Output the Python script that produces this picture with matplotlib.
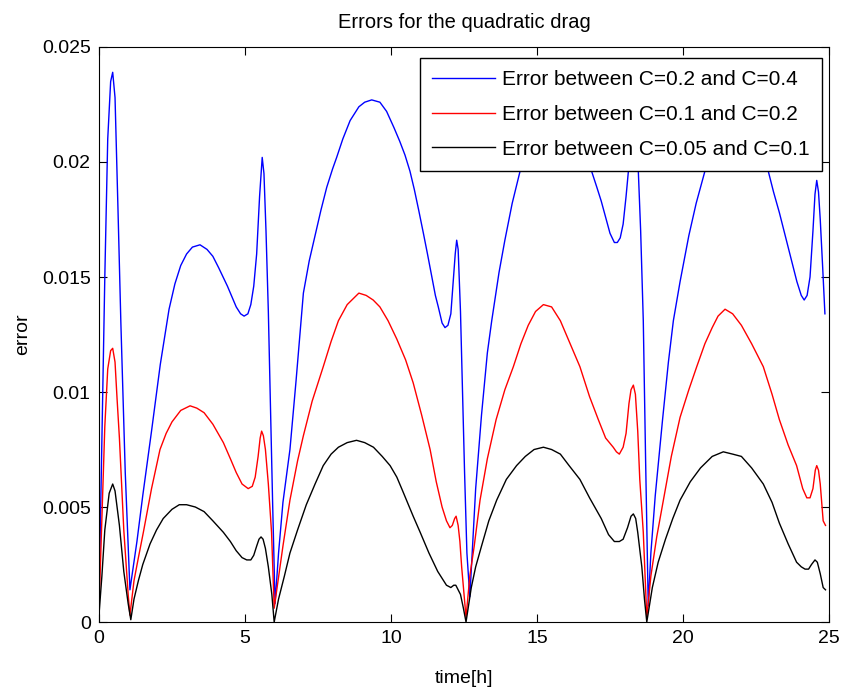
import matplotlib
matplotlib.use("Agg")
import matplotlib.pyplot as plt

plt.rcParams['font.family'] = ['Liberation Sans', 'DejaVu Sans']

# error between C=0.2 and C=0.4
t_blue = [0, 0.1, 0.2, 0.3, 0.4, 0.47, 0.55, 0.65, 0.75, 0.9, 1.06, 1.15, 1.3, 1.5, 1.8,
          2.1, 2.4, 2.6, 2.8, 3.0, 3.2, 3.46, 3.7, 3.9, 4.1, 4.4, 4.7, 4.85, 4.97, 5.1,
          5.2, 5.3, 5.4, 5.5, 5.59, 5.65, 5.72, 5.8, 5.88, 5.95, 6.03, 6.15, 6.3, 6.54,
          6.75, 7.0, 7.2, 7.4, 7.6, 7.8, 8.0, 8.14, 8.35, 8.6, 8.9, 9.1, 9.34, 9.62, 9.85,
          10.1, 10.3, 10.48, 10.65, 10.8, 10.95, 11.11, 11.25, 11.4, 11.52, 11.62, 11.75,
          11.85, 11.95, 12.05, 12.13, 12.2, 12.25, 12.3, 12.38, 12.45, 12.52, 12.6, 12.7,
          12.78, 12.9, 13.1, 13.3, 13.45, 13.7, 13.9, 14.15, 14.42, 14.7, 14.95, 15.2,
          15.5, 15.8, 16.1, 16.35, 16.6, 16.87, 17.05, 17.2, 17.35, 17.5, 17.65, 17.75,
          17.85, 17.95, 18.05, 18.13, 18.22, 18.3, 18.38, 18.47, 18.55, 18.64, 18.72,
          18.81, 18.9, 19.05, 19.3, 19.5, 19.67, 19.9, 20.2, 20.45, 20.75, 21.0, 21.25,
          21.5, 21.8, 22.1, 22.35, 22.6, 22.92, 23.1, 23.3, 23.5, 23.7, 23.9, 24.05, 24.15,
          24.25, 24.35, 24.45, 24.52, 24.58, 24.64, 24.7, 24.78, 24.86]
e_blue = [0.0008, 0.008, 0.015, 0.021, 0.0235, 0.0239, 0.0228, 0.018, 0.013, 0.0065, 0.0014,
          0.0022, 0.0035, 0.0055, 0.0083, 0.0112, 0.0136, 0.0147, 0.0155, 0.016, 0.0163,
          0.0164, 0.0162, 0.0159, 0.0154, 0.0146, 0.0137, 0.0134, 0.0133, 0.0134, 0.0138,
          0.0146, 0.016, 0.0185, 0.0202, 0.0195, 0.017, 0.0135, 0.009, 0.005, 0.0008, 0.003,
          0.0052, 0.0075, 0.0105, 0.0143, 0.0157, 0.0168, 0.0179, 0.0189, 0.0197, 0.0202,
          0.021, 0.0218, 0.0224, 0.0226, 0.0227, 0.0226, 0.0222, 0.0215, 0.0209, 0.0203,
          0.0196, 0.0188, 0.0179, 0.0169, 0.016, 0.015, 0.0142, 0.0137, 0.013, 0.0128,
          0.0129, 0.0134, 0.0148, 0.016, 0.0166, 0.0162, 0.0135, 0.01, 0.0065, 0.003, 0.0011,
          0.003, 0.0058, 0.009, 0.0117, 0.0131, 0.0152, 0.0166, 0.0182, 0.0196, 0.0207,
          0.0215, 0.022, 0.0222, 0.0222, 0.0218, 0.0212, 0.0204, 0.0196, 0.0189, 0.0183,
          0.0176, 0.0169, 0.0165, 0.0165, 0.0167, 0.0173, 0.0185, 0.0196, 0.0207, 0.0212,
          0.0207, 0.0196, 0.017, 0.0131, 0.007, 0.0007, 0.003, 0.0055, 0.0088, 0.0113,
          0.0131, 0.0148, 0.0168, 0.0182, 0.0196, 0.0205, 0.0211, 0.0214, 0.0215, 0.0213,
          0.0209, 0.0203, 0.0196, 0.0187, 0.0178, 0.0168, 0.0158, 0.0148, 0.0142, 0.014,
          0.0142, 0.015, 0.017, 0.0186, 0.0192, 0.0187, 0.0175, 0.0155, 0.0134]

# error between C=0.1 and C=0.2
t_red = [0, 0.1, 0.2, 0.3, 0.4, 0.47, 0.55, 0.62, 0.7, 0.85, 1.0, 1.06, 1.2, 1.35, 1.52,
         1.8, 2.09, 2.3, 2.5, 2.8, 3.12, 3.35, 3.6, 3.9, 4.26, 4.5, 4.7, 4.9, 5.11, 5.25,
         5.35, 5.45, 5.52, 5.57, 5.63, 5.7, 5.8, 5.91, 6.0, 6.1, 6.3, 6.54, 6.8, 7.0, 7.3,
         7.68, 7.95, 8.2, 8.5, 8.9, 9.15, 9.39, 9.62, 9.9, 10.2, 10.5, 10.76, 11.05, 11.34,
         11.55, 11.75, 11.9, 12.02, 12.1, 12.18, 12.23, 12.3, 12.36, 12.42, 12.5, 12.57,
         12.7, 12.85, 13.05, 13.3, 13.6, 13.9, 14.19, 14.45, 14.7, 14.95, 15.22, 15.5,
         15.8, 16.1, 16.47, 16.8, 17.1, 17.35, 17.61, 17.72, 17.82, 17.95, 18.05, 18.15,
         18.22, 18.3, 18.37, 18.45, 18.52, 18.64, 18.76, 18.9, 19.1, 19.33, 19.6, 19.9,
         20.2, 20.47, 20.75, 21.0, 21.2, 21.44, 21.7, 22.0, 22.35, 22.75, 23.05, 23.3,
         23.6, 23.89, 24.1, 24.24, 24.35, 24.45, 24.53, 24.58, 24.64, 24.7, 24.8, 24.88]
e_red = [0.0005, 0.0045, 0.0085, 0.011, 0.0118, 0.0119, 0.0113, 0.0097, 0.008, 0.004, 0.0012,
         0.0003, 0.0018, 0.0028, 0.0039, 0.0058, 0.0075, 0.0082, 0.0087, 0.0092, 0.0094,
         0.0093, 0.0091, 0.0086, 0.0078, 0.0071, 0.0065, 0.006, 0.0058, 0.0059, 0.0063,
         0.0072, 0.008, 0.0083, 0.0081, 0.0075, 0.006, 0.0039, 0.0006, 0.0015, 0.0033,
         0.0053, 0.007, 0.0081, 0.0096, 0.0111, 0.0122, 0.0131, 0.0138, 0.0143, 0.0142,
         0.014, 0.0137, 0.0131, 0.0123, 0.0114, 0.0104, 0.009, 0.0075, 0.0061, 0.005,
         0.0044, 0.0041, 0.0042, 0.0045, 0.0046, 0.0042, 0.0035, 0.0024, 0.0012, 0.0002,
         0.002, 0.0033, 0.0053, 0.0071, 0.0088, 0.0101, 0.0111, 0.0121, 0.0129, 0.0135,
         0.0138, 0.0137, 0.0131, 0.0122, 0.0111, 0.0098, 0.0088, 0.008, 0.0076, 0.0074,
         0.0073, 0.0076, 0.0082, 0.0095, 0.0101, 0.0103, 0.0099, 0.0083, 0.0062, 0.0039,
         0.0002, 0.002, 0.0037, 0.0053, 0.0072, 0.0089, 0.0101, 0.0111, 0.0121, 0.0128,
         0.0133, 0.0136, 0.0134, 0.0129, 0.0121, 0.0111, 0.0099, 0.0088, 0.0077, 0.0068,
         0.0058, 0.0054, 0.0054, 0.0058, 0.0066, 0.0068, 0.0066, 0.006, 0.0044, 0.0042]

# error between C=0.05 and C=0.1
t_black = [0, 0.1, 0.2, 0.35, 0.47, 0.55, 0.62, 0.7, 0.85, 1.0, 1.09, 1.2, 1.35, 1.5, 1.75,
           1.97, 2.2, 2.5, 2.75, 3.0, 3.3, 3.6, 3.9, 4.26, 4.5, 4.7, 4.9, 5.06, 5.2, 5.3,
           5.4, 5.48, 5.55, 5.62, 5.7, 5.8, 5.92, 6.0, 6.15, 6.35, 6.54, 6.8, 7.1, 7.4,
           7.68, 7.95, 8.2, 8.5, 8.82, 9.1, 9.4, 9.7, 9.97, 10.2, 10.4, 10.76, 11.0, 11.3,
           11.6, 11.9, 12.05, 12.15, 12.22, 12.3, 12.38, 12.48, 12.57, 12.75, 12.9, 13.1,
           13.35, 13.62, 13.95, 14.3, 14.6, 14.9, 15.22, 15.5, 15.8, 16.1, 16.47, 16.8,
           17.2, 17.45, 17.65, 17.82, 17.95, 18.1, 18.22, 18.3, 18.38, 18.45, 18.59, 18.68,
           18.76, 18.95, 19.15, 19.4, 19.65, 19.9, 20.25, 20.6, 21.0, 21.38, 21.7, 22.0,
           22.35, 22.75, 23.05, 23.3, 23.6, 23.89, 24.05, 24.18, 24.3, 24.4, 24.52, 24.6,
           24.7, 24.8, 24.88]
e_black = [0.0003, 0.002, 0.004, 0.0056, 0.006, 0.0057, 0.005, 0.0042, 0.0022, 0.0008,
           0.0001, 0.001, 0.0018, 0.0025, 0.0034, 0.004, 0.0045, 0.0049, 0.0051, 0.0051,
           0.005, 0.0048, 0.0044, 0.0039, 0.0035, 0.0031, 0.0028, 0.0027, 0.0027, 0.0029,
           0.0033, 0.0036, 0.0037, 0.0036, 0.0032, 0.0024, 0.0012, 0.0, 0.001, 0.002, 0.003,
           0.004, 0.0051, 0.006, 0.0068, 0.0073, 0.0076, 0.0078, 0.0079, 0.0078, 0.0076,
           0.0072, 0.0068, 0.0063, 0.0057, 0.0046, 0.0039, 0.003, 0.0022, 0.0016, 0.0015,
           0.0016, 0.0016, 0.0014, 0.0012, 0.0006, 0.0, 0.0015, 0.0024, 0.0033, 0.0044,
           0.0053, 0.0062, 0.0068, 0.0072, 0.0075, 0.0076, 0.0075, 0.0073, 0.0068, 0.0062,
           0.0054, 0.0045, 0.0038, 0.0035, 0.0035, 0.0036, 0.0041, 0.0046, 0.0047, 0.0045,
           0.0039, 0.0024, 0.001, 0.0, 0.0015, 0.0026, 0.0036, 0.0045, 0.0053, 0.0061,
           0.0067, 0.0072, 0.0074, 0.0073, 0.0072, 0.0067, 0.006, 0.0052, 0.0043, 0.0034,
           0.0026, 0.0024, 0.0023, 0.0023, 0.0025, 0.0027, 0.0026, 0.0021, 0.0015, 0.0014]

labels = ['Error between C=0.2 and C=0.4',
          'Error between C=0.1 and C=0.2',
          'Error between C=0.05 and C=0.1']

fig = plt.figure(figsize=(8.43, 6.89), dpi=100)
ax = fig.add_axes([0.1174, 0.0972, 0.866, 0.8346])

ax.plot(t_blue, e_blue, color='#0000ff', lw=1.0, label=labels[0])
ax.plot(t_red, e_red, color='#ff0000', lw=1.0, label=labels[1])
ax.plot(t_black, e_black, color='black', lw=1.0, label=labels[2])

ax.set_xlim(0, 25)
ax.set_ylim(0, 0.025)
ax.set_xticks([0, 5, 10, 15, 20, 25])
ax.set_yticks([0, 0.005, 0.01, 0.015, 0.02, 0.025])
ax.set_yticklabels(['0', '0.005', '0.01', '0.015', '0.02', '0.025'])
ax.tick_params(direction='in', top=True, right=True, length=6, labelsize=14, pad=6)

ax.set_title('Errors for the quadratic drag', fontsize=14.5, pad=14)
ax.set_xlabel('time[h]', fontsize=14, labelpad=16)
ax.set_ylabel('error', fontsize=14, labelpad=8)

leg = ax.legend(loc='upper right', bbox_to_anchor=(0.9904, 0.9809), borderaxespad=0,
                fontsize=15, handlelength=3.0, frameon=True, fancybox=False,
                edgecolor='black', labelspacing=0.75, handletextpad=0.35,
                borderpad=0.6, framealpha=1)
leg.get_frame().set_linewidth(1.0)

fig.savefig('out.png', dpi=100)
